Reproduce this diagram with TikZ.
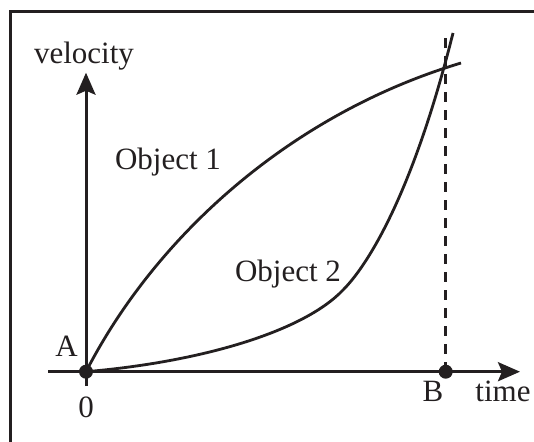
\documentclass[tikz,border=0pt]{standalone}
\usepackage{fontspec}
\setmainfont{Liberation Serif}
\usetikzlibrary{arrows.meta}
\definecolor{ink}{RGB}{35,31,32}
\begin{document}
\begin{tikzpicture}[x=1pt,y=-1pt,
  every node/.style={inner sep=0pt, font=\fontsize{31}{37}\selectfont, text=ink},
  axis/.style={draw=ink, line width=3pt, -{Stealth[length=22pt,width=19pt,inset=4pt]}},
  curve/.style={draw=ink, line width=2.8pt},
  dot/.style={circle, fill=ink, minimum size=14pt, inner sep=0pt},
  lbl/.style={anchor=base}]
\useasboundingbox (0,0) rectangle (534,441);
\fill[white] (0,0) rectangle (534,441);
\draw[ink, line width=2.6pt] (10.5,445) -- (10.5,11.7) -- (540,11.7);

\coordinate (O) at (86,371.7);
\coordinate (xs) at (48,371.7);
\coordinate (xe) at (520,371.7);
\coordinate (ys) at (86,386);
\coordinate (ye) at (86,72.7);
\coordinate (Bp) at (445.7,371.7);
\coordinate (Bt) at (445.7,33);
\coordinate (E1) at (461,63);
\coordinate (M2) at (343,290);
\coordinate (E2) at (453,33);

\draw[axis] (xs) -- (xe);
\draw[axis] (ys) -- (ye);
\draw[ink, line width=2.7pt, dash pattern=on 10pt off 8pt] (Bp) -- (Bt);
\draw[curve] (O) .. controls (156,235.5) and (291,114) .. (E1);
\draw[curve] (O) .. controls (200,362) and (303,332) .. (M2)
                 .. controls (368,265) and (413,193) .. (E2);
\node[dot] (A) at (O) {};
\node[dot] (B) at (Bp) {};

\node[lbl] (vel) at (84,64) {velocity};
\node[lbl] (o1) at (168,169) {Object 1};
\node[lbl] (o2) at (288,281.7) {Object 2};
\node[lbl] (la) at (66.5,356.7) {A};
\node[lbl] (l0) at (86,417) {0};
\node[lbl] (lb) at (433,401.7) {B};
\node[lbl] (lt) at (503,401.7) {time};
\end{tikzpicture}
\end{document}
